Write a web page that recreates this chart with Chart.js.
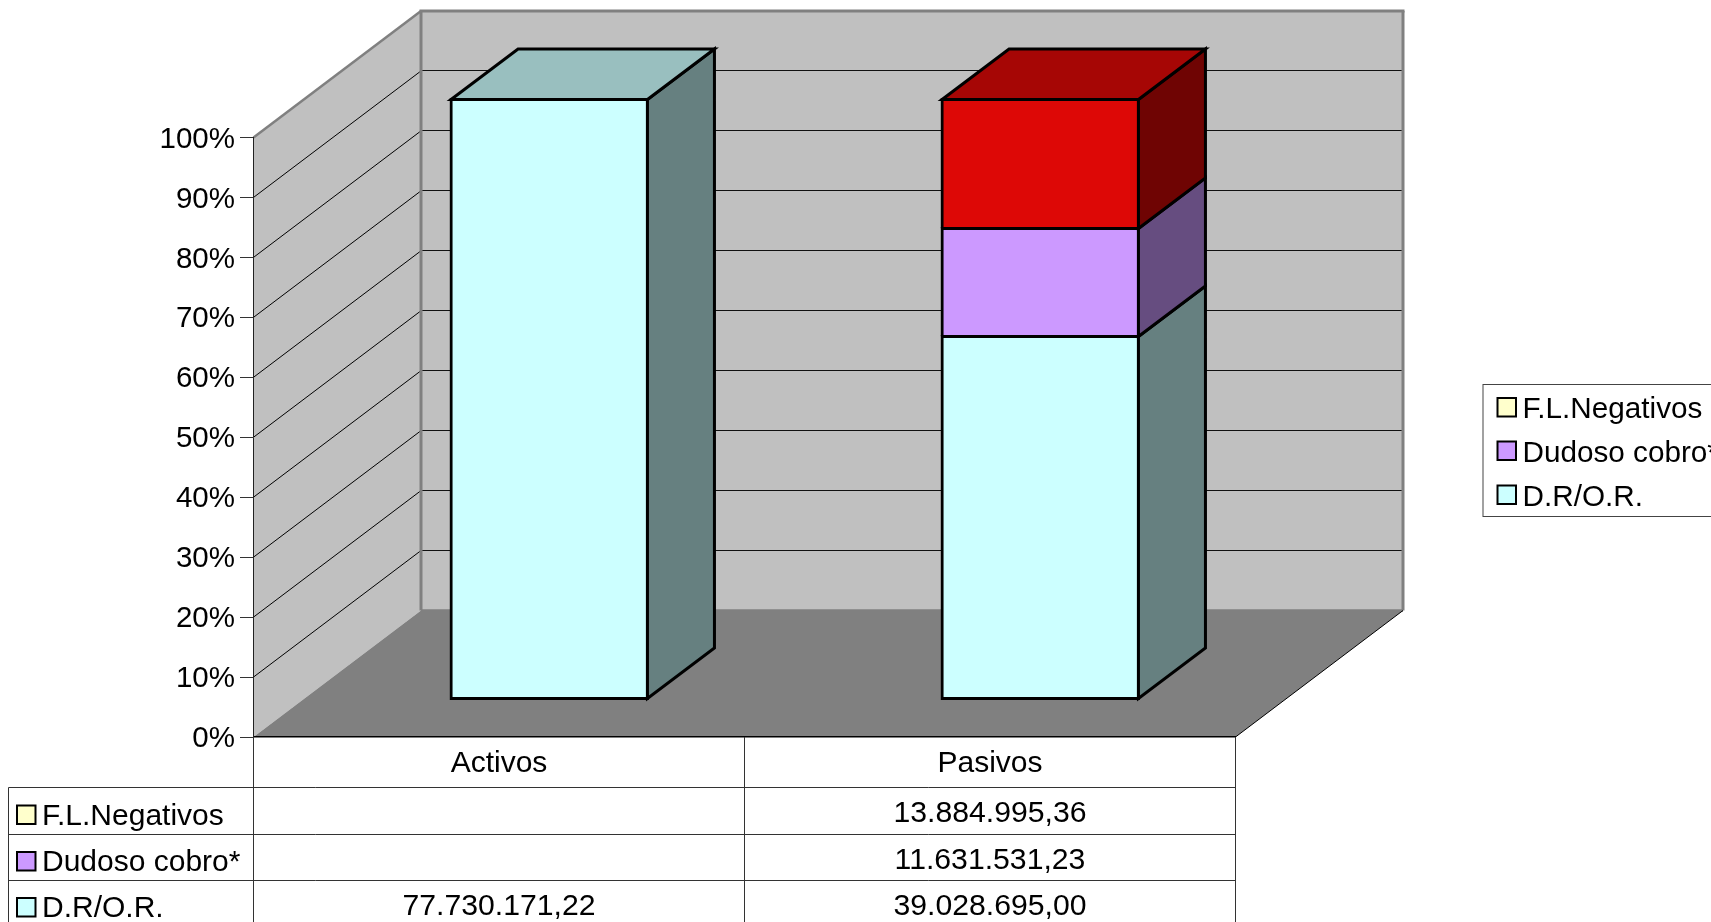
<!DOCTYPE html>
<html lang="es">
<head>
<meta charset="utf-8">
<title>Activos y pasivos</title>
<script src="https://cdn.jsdelivr.net/npm/chart.js@4/dist/chart.umd.min.js"></script>
<style>
  html, body { margin: 0; padding: 0; background: #fff; overflow: hidden; }
  canvas { display: block; }
</style>
</head>
<body>
<canvas id="chart" width="1711" height="922"></canvas>
<script>
// Amounts per category, in euros; an empty cell is null.
const categories = ['Activos', 'Pasivos'];
const flNegativos = [null, 13884995.36];
const dudosoCobro = [null, 11631531.23];
const drOr = [77730171.22, 39028695.00];

const FONT = '"Liberation Sans", Arial, sans-serif';
const TICK_SIZE = 29.5, CATEGORY_SIZE = 30, TABLE_LABEL_SIZE = 30, TABLE_VALUE_SIZE = 30.2, LEGEND_SIZE = 29.7;

// Oblique projection of the box: full depth of the floor, and the slab the columns stand on.
const DEPTH_X = 167.5, DEPTH_Y = 126.5;
const BAR_OFFSET = 0.30, BAR_DEPTH = 0.40;
const EDGE = 3;

const totals = categories.map((_, i) => (flNegativos[i] || 0) + (dudosoCobro[i] || 0) + (drOr[i] || 0));
const toPercent = arr => arr.map((v, i) => v === null ? null : v / totals[i] * 100);
const money = v => v === null ? '' : v.toLocaleString('de-DE', { minimumFractionDigits: 2, maximumFractionDigits: 2 });

// Stack order bottom to top; the legend and the table list it top to bottom.
const series = [
  { label: 'D.R/O.R.', values: drOr, face: [0xCC, 0xFF, 0xFF], key: '#CCFFFF', textY: 916.5, valueY: 915, box: 898 },
  { label: 'Dudoso cobro*', values: dudosoCobro, face: [0xCC, 0x99, 0xFF], key: '#CC99FF', textY: 871, valueY: 868.5, box: 852 },
  { label: 'F.L.Negativos', values: flNegativos, face: [0xDD, 0x08, 0x06], key: '#FFFFCC', textY: 824.5, valueY: 822, box: 805.5 }
];
const legendRows = [
  { s: series[2], box: 398, base: 418.3 },
  { s: series[1], box: 441.5, base: 462 },
  { s: series[0], box: 485.5, base: 506 }
];

const shade = (rgb, k) => `rgb(${rgb.map(c => Math.round(c * k)).join(',')})`;

function poly(ctx, pts, fill, stroke, width) {
  ctx.beginPath();
  pts.forEach((p, i) => i ? ctx.lineTo(p[0], p[1]) : ctx.moveTo(p[0], p[1]));
  ctx.closePath();
  if (fill) { ctx.fillStyle = fill; ctx.fill(); }
  if (stroke) { ctx.strokeStyle = stroke; ctx.lineWidth = width; ctx.lineJoin = 'miter'; ctx.stroke(); }
}
function seg(ctx, x1, y1, x2, y2, color, width) {
  ctx.beginPath();
  ctx.moveTo(x1, y1);
  ctx.lineTo(x2, y2);
  ctx.strokeStyle = color;
  ctx.lineWidth = width;
  ctx.stroke();
}

// Walls, floor and gridlines of the box, placed from the value scale.
const boxPlugin = {
  id: 'box3d',
  beforeDraw(chart) {
    const { ctx, chartArea: a, scales: { y } } = chart;
    const L = a.left, R = a.right, y0 = y.getPixelForValue(0), y100 = y.getPixelForValue(100);
    const bl = L + DEPTH_X, br = R + DEPTH_X;
    ctx.save();
    poly(ctx, [[L, y0], [L, y100], [bl, y100 - DEPTH_Y], [bl, y0 - DEPTH_Y]], '#C0C0C0');
    poly(ctx, [[bl, y100 - DEPTH_Y], [br, y100 - DEPTH_Y], [br, y0 - DEPTH_Y], [bl, y0 - DEPTH_Y]], '#C0C0C0');
    poly(ctx, [[L, y0], [R, y0], [br, y0 - DEPTH_Y], [bl, y0 - DEPTH_Y]], '#808080');
    y.ticks.forEach(t => {
      if (t.value === 0 || t.value === 100) return;
      const py = y.getPixelForValue(t.value);
      seg(ctx, L, py, bl, py - DEPTH_Y, '#000', 1);
      seg(ctx, bl, Math.floor(py - DEPTH_Y) + 0.5, br, Math.floor(py - DEPTH_Y) + 0.5, '#111', 1);
    });
    seg(ctx, L, y100, bl, y100 - DEPTH_Y, '#808080', 2.5);
    seg(ctx, bl - 1.5, y100 - DEPTH_Y, br + 1.5, y100 - DEPTH_Y, '#808080', 3);
    seg(ctx, bl, y100 - DEPTH_Y, bl, y0 - DEPTH_Y, '#808080', 3);
    seg(ctx, br, y100 - DEPTH_Y, br, y0 - DEPTH_Y, '#808080', 3);
    seg(ctx, bl, y0 - DEPTH_Y, br, y0 - DEPTH_Y, '#808080', 2.5);
    seg(ctx, R, y0, br, y0 - DEPTH_Y, '#000', 1);
    ctx.restore();
  },
  // Columns stand part-way back on the floor, so the dataset layer is shifted as a whole.
  beforeDatasetsDraw(chart) {
    chart.ctx.save();
    chart.ctx.translate(DEPTH_X * BAR_OFFSET, -DEPTH_Y * BAR_OFFSET);
  },
  afterDatasetsDraw(chart) {
    const ctx = chart.ctx;
    const dx = DEPTH_X * BAR_DEPTH, dy = DEPTH_Y * BAR_DEPTH;
    chart.data.datasets.forEach((ds, d) => {
      chart.getDatasetMeta(d).data.forEach((bar, i) => {
        if (ds.data[i] === null) return;
        const { x, y, base, width } = bar.getProps(['x', 'y', 'base', 'width'], true);
        const xl = x - width / 2, xr = x + width / 2;
        poly(ctx, [[xr, y], [xr + dx, y - dy], [xr + dx, base - dy], [xr, base]], shade(series[d].face, 0.5), '#000', EDGE);
        if (d === chart.data.datasets.length - 1 || i === 0) {
          poly(ctx, [[xl, y], [xl + dx, y - dy], [xr + dx, y - dy], [xr, y]], shade(series[d].face, 0.75), '#000', EDGE);
        }
      });
    });
    ctx.restore();
  },
  // Data table under the axis and the legend block to its right.
  afterDraw(chart) {
    const { ctx, chartArea: a, scales: { x } } = chart;
    const bottom = chart.height, tableLeft = 8.5;
    const mid = (x.getPixelForValue(0) + x.getPixelForValue(1)) / 2;
    ctx.save();
    [787.5, 834.5, 880.5].forEach(py => seg(ctx, tableLeft, py, a.right, py, '#333', 1));
    [a.left, mid, a.right].forEach(px => seg(ctx, Math.floor(px) + 0.5, a.bottom, Math.floor(px) + 0.5, bottom, '#333', 1));
    seg(ctx, tableLeft, 787.5, tableLeft, bottom, '#333', 1);
    ctx.textBaseline = 'alphabetic';
    series.forEach(s => {
      ctx.fillStyle = s.key;
      ctx.strokeStyle = '#000';
      ctx.lineWidth = 2;
      ctx.fillRect(17, s.box, 18.5, 18.5);
      ctx.strokeRect(17, s.box, 18.5, 18.5);
      ctx.fillStyle = '#000';
      ctx.textAlign = 'left';
      ctx.font = `${TABLE_LABEL_SIZE}px ${FONT}`;
      ctx.fillText(s.label, 42, s.textY);
      ctx.textAlign = 'center';
      ctx.font = `${TABLE_VALUE_SIZE}px ${FONT}`;
      categories.forEach((_, i) => {
        ctx.fillText(money(s.values[i]), x.getPixelForValue(i), s.valueY);
      });
    });
    ctx.strokeStyle = '#444';
    ctx.lineWidth = 1;
    ctx.strokeRect(1483, 384.5, 300, 132);
    ctx.textAlign = 'left';
    ctx.font = `${LEGEND_SIZE}px ${FONT}`;
    legendRows.forEach(r => {
      ctx.fillStyle = r.s.key;
      ctx.strokeStyle = '#000';
      ctx.lineWidth = 2;
      ctx.fillRect(1497.5, r.box, 18.5, 18.5);
      ctx.strokeRect(1497.5, r.box, 18.5, 18.5);
      ctx.fillStyle = '#000';
      ctx.fillText(r.s.label, 1522.5, r.base);
    });
    ctx.restore();
  }
};

new Chart(document.getElementById('chart'), {
  type: 'bar',
  data: {
    labels: categories,
    datasets: series.map((s, d) => ({
      label: s.label,
      data: toPercent(s.values),
      backgroundColor: shade(s.face, 1),
      borderColor: '#000',
      borderWidth: d === 0 ? EDGE : { top: EDGE, left: EDGE, right: EDGE, bottom: 0 },
      borderSkipped: false,
      inflateAmount: EDGE / 2,
      categoryPercentage: 1,
      barPercentage: 0.4,
      clip: false
    }))
  },
  plugins: [boxPlugin],
  options: {
    responsive: false,
    animation: false,
    events: [],
    layout: { padding: { left: 0, top: 137.5, right: 475.5, bottom: 0 } },
    plugins: { legend: { display: false }, tooltip: { enabled: false }, title: { display: false } },
    scales: {
      x: {
        stacked: true,
        grid: { drawOnChartArea: false, drawTicks: false },
        border: { color: '#000', width: 1.5 },
        ticks: { color: '#000', font: { family: FONT, size: CATEGORY_SIZE }, padding: 9, maxRotation: 0 },
        afterFit(scale) { scale.height = 185; }
      },
      y: {
        stacked: true,
        min: 0,
        max: 100,
        grid: { drawOnChartArea: false, tickLength: 13.5, color: '#333', lineWidth: 1 },
        border: { color: '#222', width: 1 },
        ticks: {
          stepSize: 10,
          color: '#000',
          padding: 5,
          labelOffset: 2,
          font: { family: FONT, size: TICK_SIZE },
          callback: v => v + '%'
        },
        afterFit(scale) { scale.width = 253.5; }
      }
    }
  }
});
</script>
</body>
</html>
